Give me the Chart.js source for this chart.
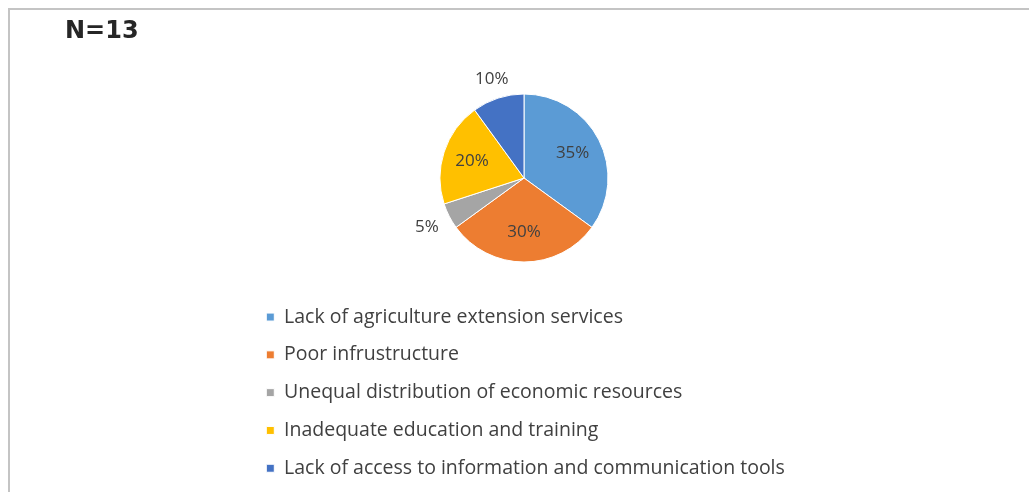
<!DOCTYPE html>
<html>
<head>
<meta charset="utf-8">
<script src="https://cdn.jsdelivr.net/npm/chart.js@4/dist/chart.umd.min.js"></script>
<style>
  html, body { margin: 0; padding: 0; background: #fff; overflow: hidden; }
  #wrap { position: relative; width: 1029px; height: 492px; overflow: hidden; }
  #frame { position: absolute; left: 8px; top: 8px; width: 1100px; height: 600px;
           border-left: 2px solid #c4c4c4; border-top: 2px solid #c4c4c4; box-sizing: border-box; }
  #title { position: absolute; left: 65px; top: 16px; font: bold 24px "DejaVu Sans"; line-height: 28px; color: #262626; }
  canvas { position: absolute; left: 0; top: 0; }
</style>
</head>
<body>
<div id="wrap">
  <div id="frame"></div>
  <canvas id="c" width="1029" height="492"></canvas>
  <div id="title">N=13</div>
</div>
<script>
const categories = [
  "Lack of agriculture extension services",
  "Poor infrustructure",
  "Unequal distribution of economic resources",
  "Inadequate education and training",
  "Lack of access to information and communication tools"
];
const percentages = [35, 30, 5, 20, 10];
const sliceColors = ["#5B9BD5", "#ED7D31", "#A5A5A5", "#FFC000", "#4472C4"];

const labelPlugin = {
  id: 'pctLabels',
  afterDatasetsDraw(chart) {
    const ctx = chart.ctx;
    const meta = chart.getDatasetMeta(0);
    ctx.save();
    ctx.font = '17px "Open Sans"';
    ctx.fillStyle = '#404040';
    ctx.textAlign = 'center';
    ctx.textBaseline = 'middle';
    meta.data.forEach((arc, i) => {
      const p = arc.getProps(['x', 'y', 'startAngle', 'endAngle', 'outerRadius'], true);
      const mid = (p.startAngle + p.endAngle) / 2;
      const dx = Math.cos(mid), dy = Math.sin(mid);
      const txt = percentages[i] + '%';
      let x, y;
      if (percentages[i] >= 15) {
        x = p.x + dx * p.outerRadius * 0.65;
        y = p.y + dy * p.outerRadius * 0.65;
      } else {
        const w = ctx.measureText(txt).width, h = 14;
        const r = p.outerRadius + 6 + Math.abs(dx) * w * 0.75 + Math.abs(dy) * h / 2;
        x = p.x + dx * r;
        y = p.y + dy * r;
      }
      ctx.fillText(txt, x, y);
    });
    ctx.restore();
  }
};

new Chart(document.getElementById('c'), {
  type: 'pie',
  data: {
    labels: categories,
    datasets: [{
      data: percentages,
      backgroundColor: sliceColors,
      borderColor: '#ffffff',
      borderWidth: 1,
      radius: 84
    }]
  },
  options: {
    responsive: false,
    animation: false,
    layout: { padding: { left: 248, right: 229, top: 67, bottom: 4 } },
    plugins: {
      tooltip: { enabled: false },
      title: { display: false },
      legend: {
        position: 'bottom',
        align: 'start',
        labels: {
          boxWidth: 8,
          boxHeight: 8,
          padding: 18.3,
          color: '#404040',
          font: { family: 'Open Sans', size: 19.5 }
        }
      }
    }
  },
  plugins: [labelPlugin]
});
</script>
</body>
</html>
